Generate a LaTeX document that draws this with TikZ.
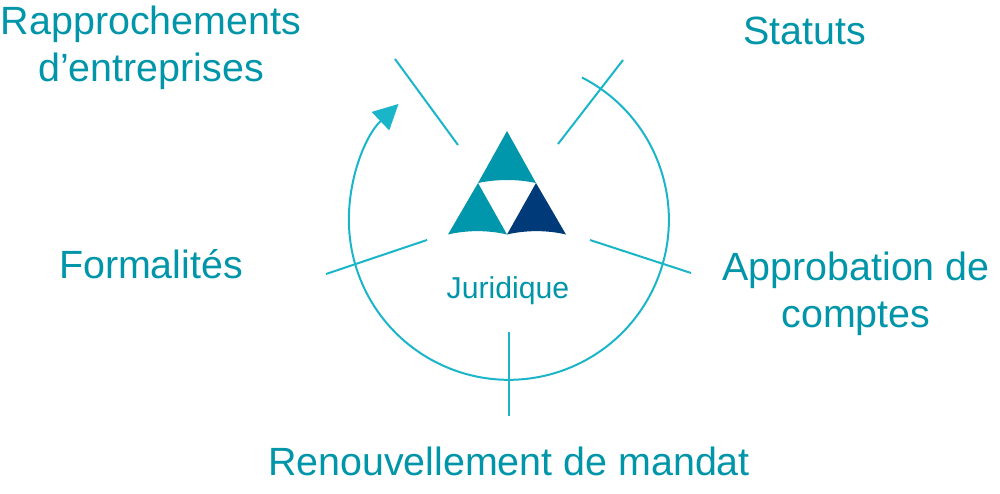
\documentclass[tikz,border=0pt]{standalone}
\usepackage{fontspec}
\setmainfont{Liberation Sans}
\usetikzlibrary{arrows.meta}
\definecolor{ringcol}{HTML}{1BB5C9}
\definecolor{labelcol}{HTML}{0095A9}
\definecolor{tealcol}{HTML}{0097AD}
\definecolor{navycol}{HTML}{003A78}

\begin{document}
\begin{tikzpicture}[
    x=1pt, y=-1pt,
    label/.style={text=labelcol, align=center, font=\fontsize{39.4}{47}\selectfont, inner sep=0pt},
    tick/.style={draw=ringcol, line width=2pt},
    ring/.style={draw=ringcol, line width=2pt, -{Triangle[length=25pt,width=25pt]}}
]
    \useasboundingbox (0,0) rectangle (1000,493);

    % Labels
    \node[label] (rapprochements) at (151,48) {Rapprochements\\d’entreprises};
    \node[label] (statuts) at (804.5,31) {Statuts};
    \node[label] (formalites) at (151,264) {Formalités};
    \node[label] (approbation) at (856,294) {Approbation de\\comptes};
    \node[label] (renouvellement) at (509,461) {Renouvellement de mandat};
    \node[text=labelcol, font=\fontsize{30.2}{36}\selectfont, inner sep=0pt] (juridique) at (508,291) {Juridique};

    % Triangle
    \coordinate (apex) at (507,131);
    \coordinate (midleft) at (478,183);
    \coordinate (midright) at (536,183);
    \coordinate (baseleft) at (448,234.5);
    \coordinate (basemid) at (507,234.5);
    \coordinate (baseright) at (566,234.5);
    \fill[tealcol] (apex) -- (midright) .. controls (517,179) and (497,179) .. (midleft) -- cycle;
    \fill[tealcol] (midleft) -- (basemid) .. controls (488,230) and (467,230) .. (baseleft) -- cycle;
    \fill[navycol] (midright) -- (baseright) .. controls (547,230) and (526,230) .. (basemid) -- cycle;

    % Ring
    \coordinate (ringstart) at (582,77.5);
    \draw[ring] (ringstart) arc[start angle=-62.8, end angle=226.4, radius=160];

    % Ticks
    \coordinate (t1a) at (395,59);
    \coordinate (t1b) at (458,145);
    \coordinate (t2a) at (623,60);
    \coordinate (t2b) at (558,144);
    \coordinate (t3a) at (691,273);
    \coordinate (t3b) at (590,240);
    \coordinate (t4a) at (326,274);
    \coordinate (t4b) at (427,240);
    \coordinate (t5a) at (508.5,332);
    \coordinate (t5b) at (508.5,416);
    \draw[tick] (t1a) -- (t1b);
    \draw[tick] (t2a) -- (t2b);
    \draw[tick] (t3a) -- (t3b);
    \draw[tick] (t4a) -- (t4b);
    \draw[tick] (t5a) -- (t5b);
\end{tikzpicture}
\end{document}
